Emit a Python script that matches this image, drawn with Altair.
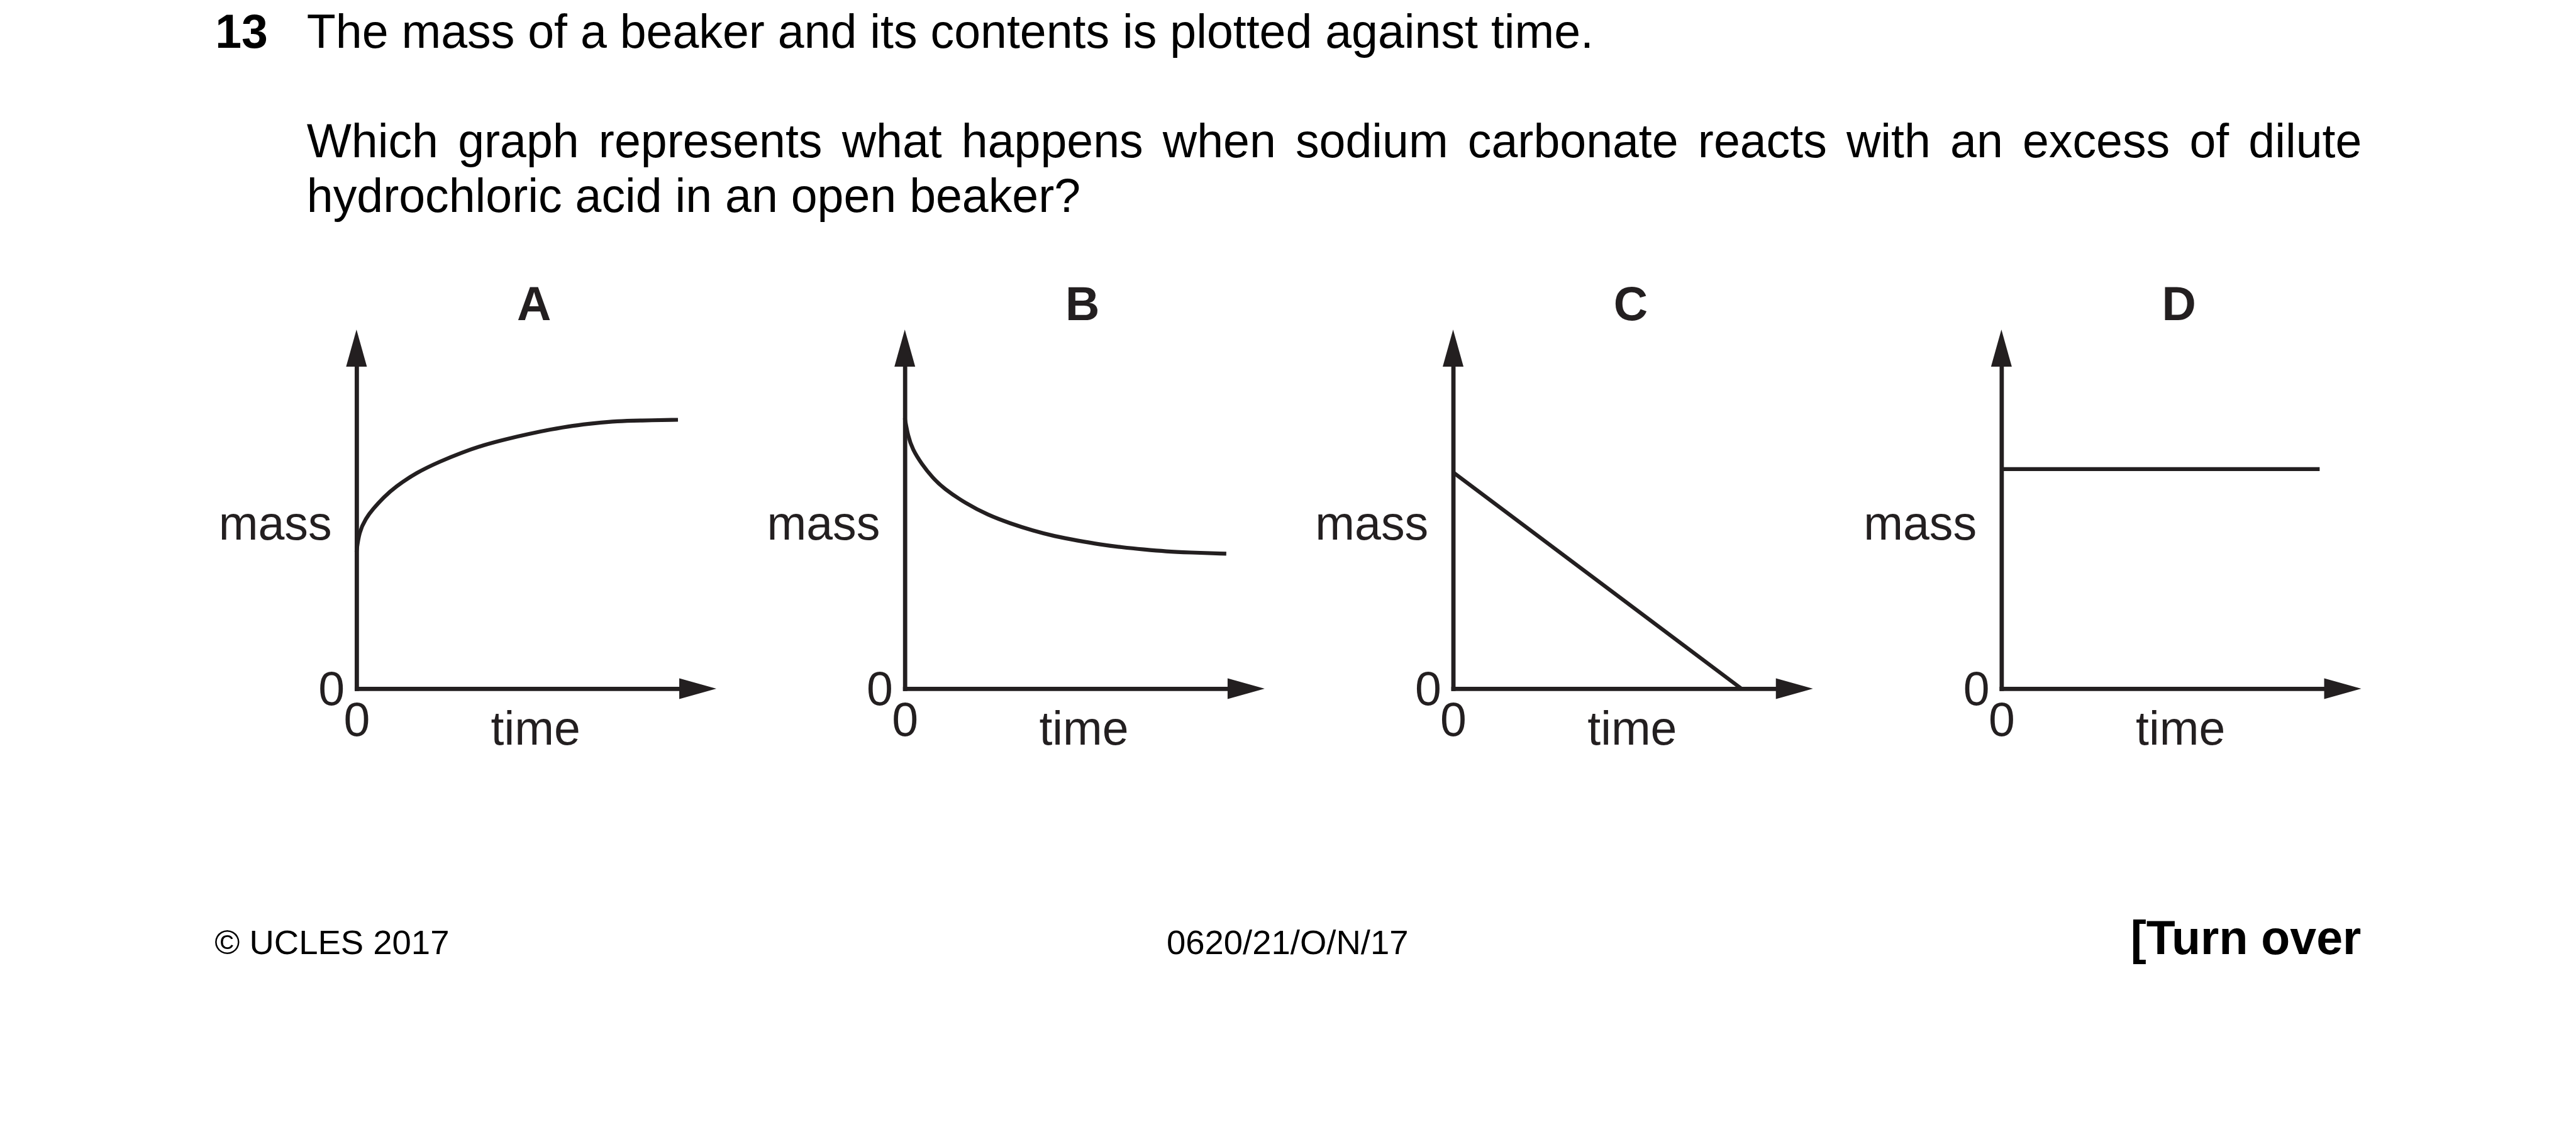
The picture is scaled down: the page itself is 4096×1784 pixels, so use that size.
import altair as alt
import pandas as pd

# ---------------- values ----------------
panel_letters = ["A", "B", "C", "D"]

a_time = [0, 0.8, 2.9, 5.0, 8.4, 11.9, 18.7, 25.7, 32.5, 39.4, 46.3, 53.2, 60.1, 67.0, 73.9, 80.8, 87.7, 99.6]
a_mass = [42.5, 48.7, 52.9, 55.7, 59.4, 62.6, 67.2, 70.5, 73.3, 75.7, 77.5, 79.1, 80.5, 81.7, 82.5, 83.1, 83.3, 83.5]

b_time = [0, 1.0, 2.4, 5.2, 8.6, 12.0, 18.9, 25.8, 32.7, 39.6, 46.5, 53.4, 60.3, 67.2, 74.1, 81.0, 87.9, 99.6]
b_mass = [84.0, 78.4, 74.3, 69.8, 65.5, 62.2, 57.5, 53.9, 51.3, 49.1, 47.3, 46.0, 44.8, 43.9, 43.2, 42.6, 42.3, 41.9]

c_time = [0, 89.3]
c_mass = [67.2, 0]

d_time = [0, 98.6]
d_mass = [68.2, 68.2]

axis_zero_label = [0]
x_title = "time"
y_title = "mass"

question_number = "13"
stem_line1 = "The mass of a beaker and its contents is plotted against time."
stem_line2_words = ["Which", "graph", "represents", "what", "happens", "when", "sodium",
                    "carbonate", "reacts", "with", "an", "excess", "of", "dilute"]
stem_line3 = "hydrochloric acid in an open beaker?"
footer_left = "\u00a9 UCLES 2017"
footer_mid = "0620/21/O/N/17"
footer_right = "[Turn over"

# ---------------- layout / style ----------------
S = 0.991
FONT = "Liberation Sans"
INK = "#231f20"
FS = 76 * S
FS_FOOT = 55 * S
W = 518 * S
H = 516.6 * S
PITCH = 879.3 * S
SPACING = PITCH - W
OX = 571.8 * S          # page x of panel A plot origin
OY = 588 * S            # page y of panel A plot origin
AXIS_W = 6.8
CURVE_W = 6.2
ARROW_L = 59.0
ARROW_SIZE = 4 * ARROW_L ** 2
UP = "M0,-1L0.28,0L-0.28,0Z"
RIGHT = "M1,0L0,-0.28L0,0.28Z"


def rx(xref):
    return xref * S - OX


def ry(yref):
    return yref * S - OY


ARIAL = {"W": 944, "h": 556, "i": 222, "c": 500, "g": 556, "r": 333, "a": 556,
         "p": 556, "e": 556, "s": 500, "n": 556, "t": 278, "w": 722, "o": 556,
         "d": 556, "u": 556, "m": 833, "b": 556, "x": 500, "f": 278, "l": 222}


def text_w(s, fs):
    return sum(ARIAL.get(ch, 556) for ch in s) / 1000.0 * fs


x_axis = alt.Axis(values=axis_zero_label, title=x_title, ticks=False, grid=False,
                  domainColor=INK, domainWidth=AXIS_W, domainCap="square",
                  labelFont=FONT, labelFontSize=FS, labelColor=INK, labelPadding=74.7,
                  labelBaseline="alphabetic", labelAlign="center", labelFlush=False,
                  titleFont=FONT, titleFontSize=FS, titleFontWeight="normal", titleColor=INK,
                  titleX=287 * S, titleY=89.4 * S, titleAlign="center", titleBaseline="alphabetic")
y_axis = alt.Axis(values=axis_zero_label, title=y_title, ticks=False, grid=False,
                  domainColor=INK, domainWidth=AXIS_W, domainCap="square",
                  labelFont=FONT, labelFontSize=FS, labelColor=INK, labelPadding=19.4 * S,
                  labelBaseline="alphabetic", labelAlign="right", labelFlush=False,
                  labelOffset=25.4 * S,
                  titleFont=FONT, titleFontSize=FS, titleFontWeight="normal", titleColor=INK,
                  titleAngle=0, titleX=-40.2 * S, titleY=277 * S, titleAlign="right",
                  titleBaseline="alphabetic")


def text_layer(txt, x, y, size, weight="normal", align="left", color="black"):
    return alt.Chart(pd.DataFrame({"t": [txt]})).mark_text(
        align=align, baseline="alphabetic", font=FONT, fontSize=size,
        fontWeight=weight, color=color
    ).encode(x=alt.value(x), y=alt.value(y), text="t:N")


def panel(letter, times, masses, interp, extra=()):
    xs = alt.X("time:Q", scale=alt.Scale(domain=[0, 100], nice=False, zero=False), axis=x_axis)
    ys = alt.Y("mass:Q", scale=alt.Scale(domain=[0, 100], nice=False, zero=False), axis=y_axis)
    curve = alt.Chart(pd.DataFrame({"time": times, "mass": masses})).mark_line(
        color=INK, strokeWidth=CURVE_W, interpolate=interp
    ).encode(x=xs, y=ys)
    up = alt.Chart(pd.DataFrame({"time": [0], "mass": [100]})).mark_point(
        shape=UP, size=ARROW_SIZE, filled=True, color=INK, opacity=1, strokeWidth=0
    ).encode(x=xs, y=ys)
    right = alt.Chart(pd.DataFrame({"time": [100], "mass": [0]})).mark_point(
        shape=RIGHT, size=ARROW_SIZE, filled=True, color=INK, opacity=1, strokeWidth=0
    ).encode(x=xs, y=ys)
    head = alt.Chart(pd.DataFrame({"letter": [letter]})).mark_text(
        align="center", baseline="alphabetic", font=FONT, fontSize=FS,
        fontWeight="bold", color=INK
    ).encode(x=alt.value(285 * S), y=alt.value(-75 * S), text="letter:N")
    return alt.layer(*extra, curve, up, right, head).properties(width=W, height=H)


# page-level texts, drawn inside panel A's layer
page_frame = alt.Chart(pd.DataFrame({"f": [0]})).mark_rect(opacity=0, color="white").encode(
    x=alt.value(8 - OX), x2=alt.value(4088 - OX),
    y=alt.value(8 - OY), y2=alt.value(1776 - OY))

page_texts = [page_frame,
              text_layer(question_number, rx(345), ry(76), FS, "bold"),
              text_layer(stem_line1, rx(492), ry(76), FS),
              text_layer(stem_line3, rx(492), ry(340), FS)]

line_left = rx(492)
line_width = (3790 - 492) * S
widths = [text_w(w, FS) for w in stem_line2_words]
gap = (line_width - sum(widths)) / (len(stem_line2_words) - 1)
pos = line_left
for word, wd in zip(stem_line2_words, widths):
    page_texts.append(text_layer(word, pos, ry(251.7), FS))
    pos += wd + gap

page_texts += [text_layer(footer_left, rx(344), ry(1530.3), FS_FOOT),
               text_layer(footer_mid, rx(2066), ry(1530.3), FS_FOOT, align="center"),
               text_layer(footer_right, rx(3789), ry(1530.7), FS, "bold", align="right")]

pA = panel(panel_letters[0], a_time, a_mass, "basis", extra=page_texts)
pB = panel(panel_letters[1], b_time, b_mass, "basis")
pC = panel(panel_letters[2], c_time, c_mass, "linear")
pD = panel(panel_letters[3], d_time, d_mass, "linear")

chart = alt.hconcat(pA, pB, pC, pD, spacing=SPACING, bounds="flush").properties(
    padding=0
).configure(font=FONT).configure_view(stroke="transparent", strokeWidth=0)

chart.save("out.html", embed_options={"renderer": "svg", "actions": False})
